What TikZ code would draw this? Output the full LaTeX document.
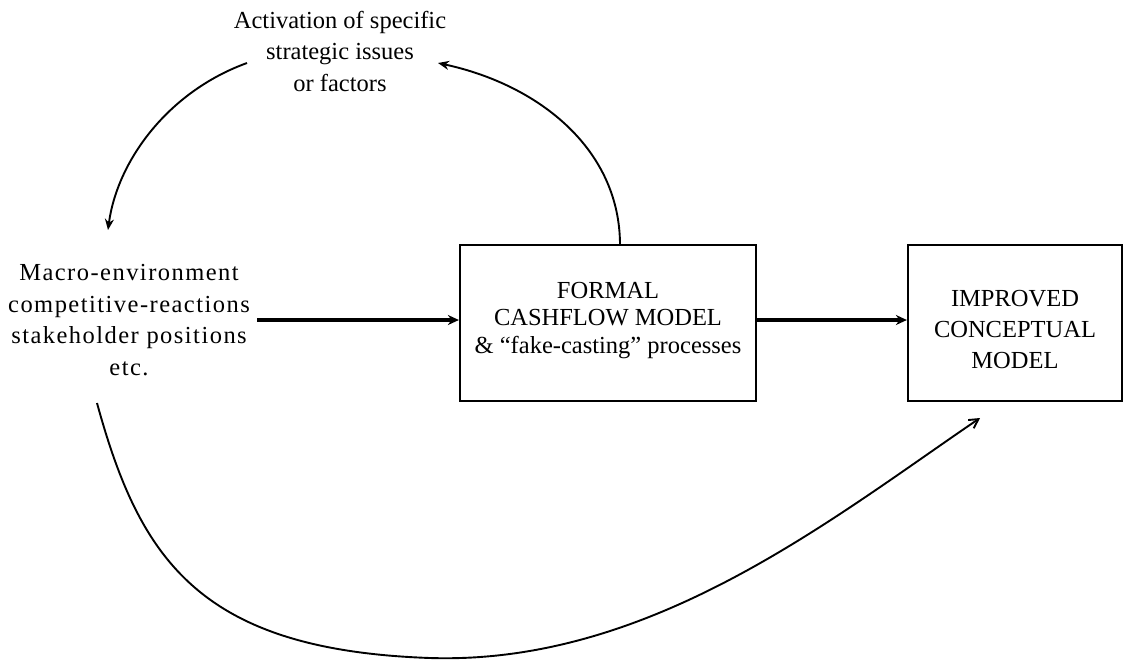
\documentclass[tikz,border=0pt]{standalone}
\usepackage{fontspec}
\setmainfont{Liberation Serif}
\usetikzlibrary{arrows.meta}
\begin{document}
\begin{tikzpicture}[x=1pt,y=-1pt,
  lbl/.style={align=center,font=\fontsize{24.5}{31.5}\selectfont,inner sep=0pt},
  boxnode/.style={draw,line width=2.2pt,inner sep=0pt,align=center},
  harrow/.style={line width=3.4pt,-{Stealth[length=11pt,width=10pt]}},
  carrow/.style={line width=1.9pt,-{Stealth[length=11pt,width=9pt]}},
  barrow/.style={line width=1.9pt,-{Straight Barb[length=9pt,width=10pt]}}]
\useasboundingbox (0,0) rectangle (1124,662);
\node[lbl] (act) at (340,51) {Activation of specific\\strategic issues\\or factors};
\node[lbl,font=\fontsize{24.5}{31.5}\selectfont\addfontfeature{LetterSpace=6}] (macro) at (129,320) {Macro-environment\\competitive-reactions\\stakeholder positions\\etc.};
\node[boxnode,minimum width=296pt,minimum height=156pt,text depth=11pt,font=\fontsize{24.5}{27.5}\selectfont] (formal) at (608,323) {FORMAL\\CASHFLOW MODEL\\\& “fake-casting” processes};
\node[boxnode,minimum width=214pt,minimum height=156pt,text height=90.7pt,font=\fontsize{24.5}{31}\selectfont] (improved) at (1015,323) {IMPROVED\\CONCEPTUAL\\MODEL};
\coordinate (a1) at (247,63);
\coordinate (a2) at (108,230);
\coordinate (b1) at (620,245);
\coordinate (b2) at (438,63);
\coordinate (c1) at (97,403);
\coordinate (cm) at (430,658);
\coordinate (c2) at (980,418);
\draw[harrow] (257,0 |- macro.east) -- (257,0 |- macro.east -| formal.west);
\draw[harrow] ([yshift=3pt]formal.east) -- ([yshift=3pt]improved.west);
\draw[carrow] (a1) .. controls (167,92) and (117,162) .. (a2);
\draw[carrow] (b1) .. controls (620,150) and (540,85) .. (b2);
\draw[barrow] (c1) .. controls (140,560) and (200,650) .. (cm) .. controls (650,665) and (830,520) .. (c2);
\end{tikzpicture}
\end{document}
